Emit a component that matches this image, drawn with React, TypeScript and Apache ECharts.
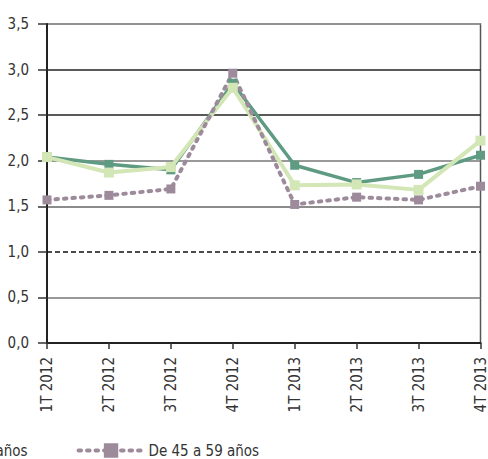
import React, { useEffect, useRef } from "react";
import * as echarts from "echarts";

const categories = ["1T 2012", "2T 2012", "3T 2012", "4T 2012", "1T 2013", "2T 2013", "3T 2013", "4T 2013"];
const seriesNames = ["De 16 a 29 años", "De 30 a 44 años", "De 45 a 59 años"];
const darkGreen = [2.04, 1.96, 1.9, 2.85, 1.95, 1.76, 1.85, 2.06];
const lightGreen = [2.04, 1.87, 1.93, 2.8, 1.73, 1.74, 1.68, 2.22];
const purple = [1.57, 1.62, 1.69, 2.96, 1.52, 1.6, 1.57, 1.72];
const yTicks = [0, 0.5, 1, 1.5, 2, 2.5, 3, 3.5];

const FONT = "'Liberation Sans Narrow', 'DejaVu Sans Condensed', 'Roboto', sans-serif";

export default function App() {
  const ref = useRef<HTMLDivElement>(null);
  useEffect(() => {
    if (!ref.current) return;
    const chart = echarts.init(ref.current, undefined, { renderer: "svg" });
    chart.setOption({
      animation: false,
      grid: {
        left: 47,
        right: 4,
        top: 24,
        bottom: 116,
        show: true,
        borderColor: "#555",
        borderWidth: 1.5,
      },
      legend: {
        data: [seriesNames[1], seriesNames[2]],
        left: -160,
        top: 438,
        itemWidth: 65,
        itemHeight: 18,
        itemGap: 49,
        lineStyle: { width: 4 },
        textStyle: { fontFamily: FONT, fontSize: 15, color: "#333" },
      },
      xAxis: {
        type: "category",
        data: categories,
        boundaryGap: false,
        axisLine: { lineStyle: { color: "#222", width: 2 } },
        axisTick: { show: true, length: 6, lineStyle: { color: "#333", width: 1.5 } },
        axisLabel: {
          rotate: 90,
          interval: 0,
          margin: 14,
          fontFamily: FONT,
          fontSize: 15,
          color: "#333",
        },
        splitLine: { show: false },
      },
      yAxis: {
        type: "value",
        min: yTicks[0],
        max: yTicks[yTicks.length - 1],
        interval: 0.5,
        axisLine: { show: true, lineStyle: { color: "#222", width: 2 } },
        axisTick: { show: true, length: 9, lineStyle: { color: "#333", width: 1.5 } },
        axisLabel: {
          margin: 18,
          fontFamily: FONT,
          fontSize: 15,
          color: "#333",
          formatter: (v: number) => v.toFixed(1).replace(".", ","),
        },
        splitLine: {
          show: true,
          lineStyle: {
            width: 1.5,
            color: ["#333", "#777", "rgba(0,0,0,0)", "#666", "#777", "#222", "#222", "#999"],
          },
        },
      },
      series: [
        {
          name: seriesNames[0],
          type: "line",
          data: darkGreen,
          symbol: "rect",
          symbolSize: 9,
          lineStyle: { color: "#5f9a82", width: 3.5 },
          itemStyle: { color: "#5f9a82" },
          markLine: {
            silent: true,
            symbol: "none",
            label: { show: false },
            lineStyle: { color: "#111", type: [5, 3], width: 1.5 },
            data: [{ yAxis: 1 }],
          },
        },
        {
          name: seriesNames[1],
          type: "line",
          data: lightGreen,
          symbol: "rect",
          symbolSize: 10,
          lineStyle: { color: "#d3e6b6", width: 4 },
          itemStyle: { color: "#d3e6b6" },
        },
        {
          name: seriesNames[2],
          type: "line",
          data: purple,
          symbol: "rect",
          symbolSize: 9,
          lineStyle: { color: "#9d8b9b", width: 4, type: [2.5, 6], cap: "round" },
          itemStyle: { color: "#9d8b9b" },
        },
      ],
    });
    return () => chart.dispose();
  }, []);
  return <div ref={ref} style={{ width: 488, height: 459, position: "absolute", left: 0, top: 0 }} />;
}
